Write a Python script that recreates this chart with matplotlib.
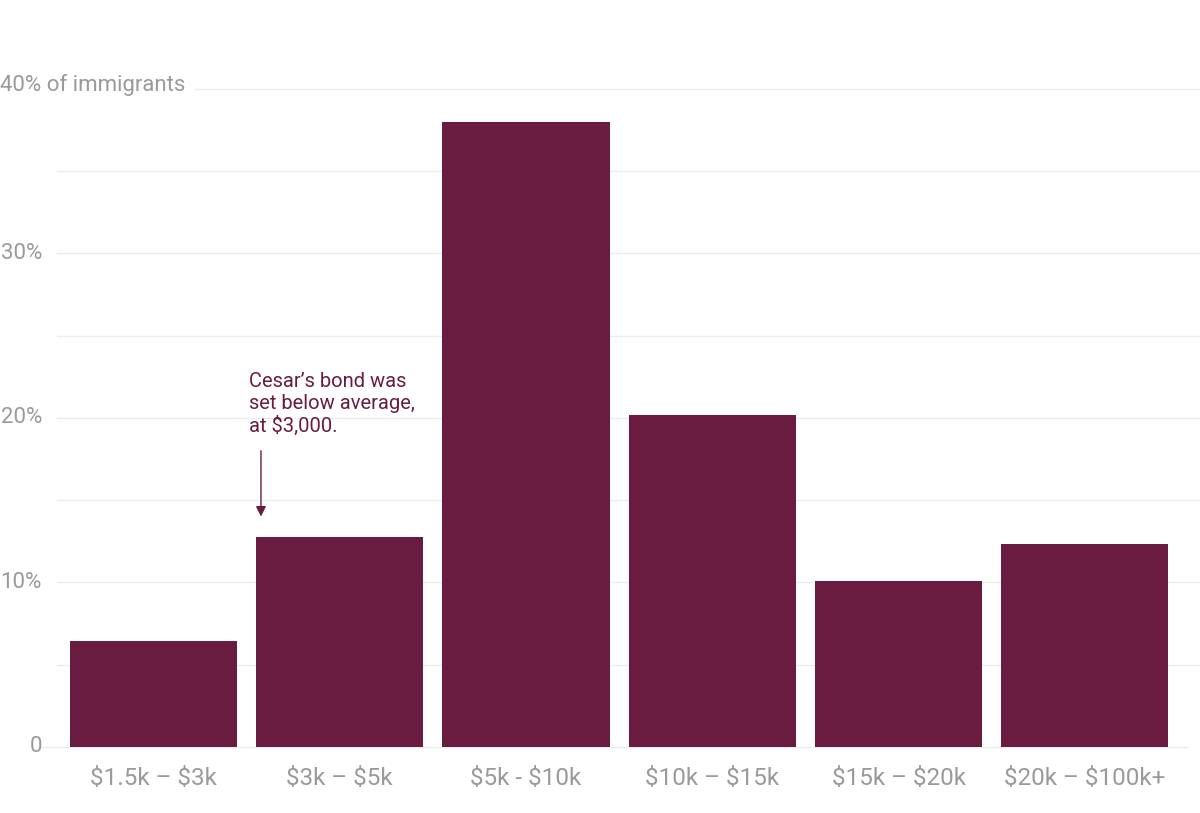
import matplotlib
matplotlib.use("Agg")
import matplotlib.pyplot as plt
import matplotlib.transforms as mtransforms

# bond amount buckets and share of immigrants (%)
categories = ["$1.5k – $3k", "$3k – $5k", "$5k - $10k", "$10k – $15k", "$15k – $20k", "$20k – $100k+"]
shares = [6.4, 12.75, 38.0, 20.2, 10.05, 12.3]
grid_values = [5, 10, 15, 20, 25, 30, 35, 40]
tick_values = [0, 10, 20, 30]
tick_labels = ["0", "10%", "20%", "30%"]

BAR = "#6a1c40"
GRAY = "#9a9a9a"
GRID = "#ececec"

plt.rcParams["font.family"] = ["Roboto", "DejaVu Sans"]
plt.rcParams["text.parse_math"] = False

W, H = 1200, 813
fig = plt.figure(figsize=(W / 100, H / 100), dpi=100)
# axes in pixel terms: left 42, right 1200, zero at y=746.7, 40% at y=89.1
ax = fig.add_axes([42 / W, (H - 746.7) / H, (1200 - 42) / W, (746.7 - 89.1) / H])

x = list(range(len(categories)))
ax.bar(x, shares, width=0.897, color=BAR, zorder=3)

ax.set_xlim(-0.5987, 5.6188)
ax.set_ylim(0, 40)

trans = mtransforms.blended_transform_factory(ax.transAxes, ax.transData)
for v in grid_values:
    start = 0.1321 if v == 40 else 0.01295
    ax.plot([start, 1], [v, v], transform=trans, color=GRID, lw=1, zorder=1, clip_on=False)
ax.plot([0, 0.9888], [0, 0], transform=trans, color=GRID, lw=1, zorder=1, clip_on=False)

for v, lab in zip(tick_values, tick_labels):
    ax.text(0.0, v, lab, transform=trans, ha="right", va="center", color=GRAY,
            fontsize=16)
ax.text(-42 / 1158, 40.25, "40% of immigrants", transform=trans, ha="left", va="center",
        color=GRAY, fontsize=16)

for xi, lab in zip(x, categories):
    ax.text(xi, -1.95, lab, ha="center", va="center", color=GRAY, fontsize=17.5,
            clip_on=False)

ax.text(0.513, 20.85, "Cesar’s bond was\nset below average,\nat $3,000.", ha="left", va="center",
        color=BAR, fontsize=14.5, linespacing=1.2)
ax.annotate("", xy=(0.577, 13.83), xytext=(0.577, 18.17),
            arrowprops=dict(arrowstyle="-|>,head_width=0.3,head_length=0.6", color=BAR, lw=1))

ax.set_xticks([])
ax.set_yticks([])
for s in ax.spines.values():
    s.set_visible(False)

fig.savefig("out.png", dpi=100)
